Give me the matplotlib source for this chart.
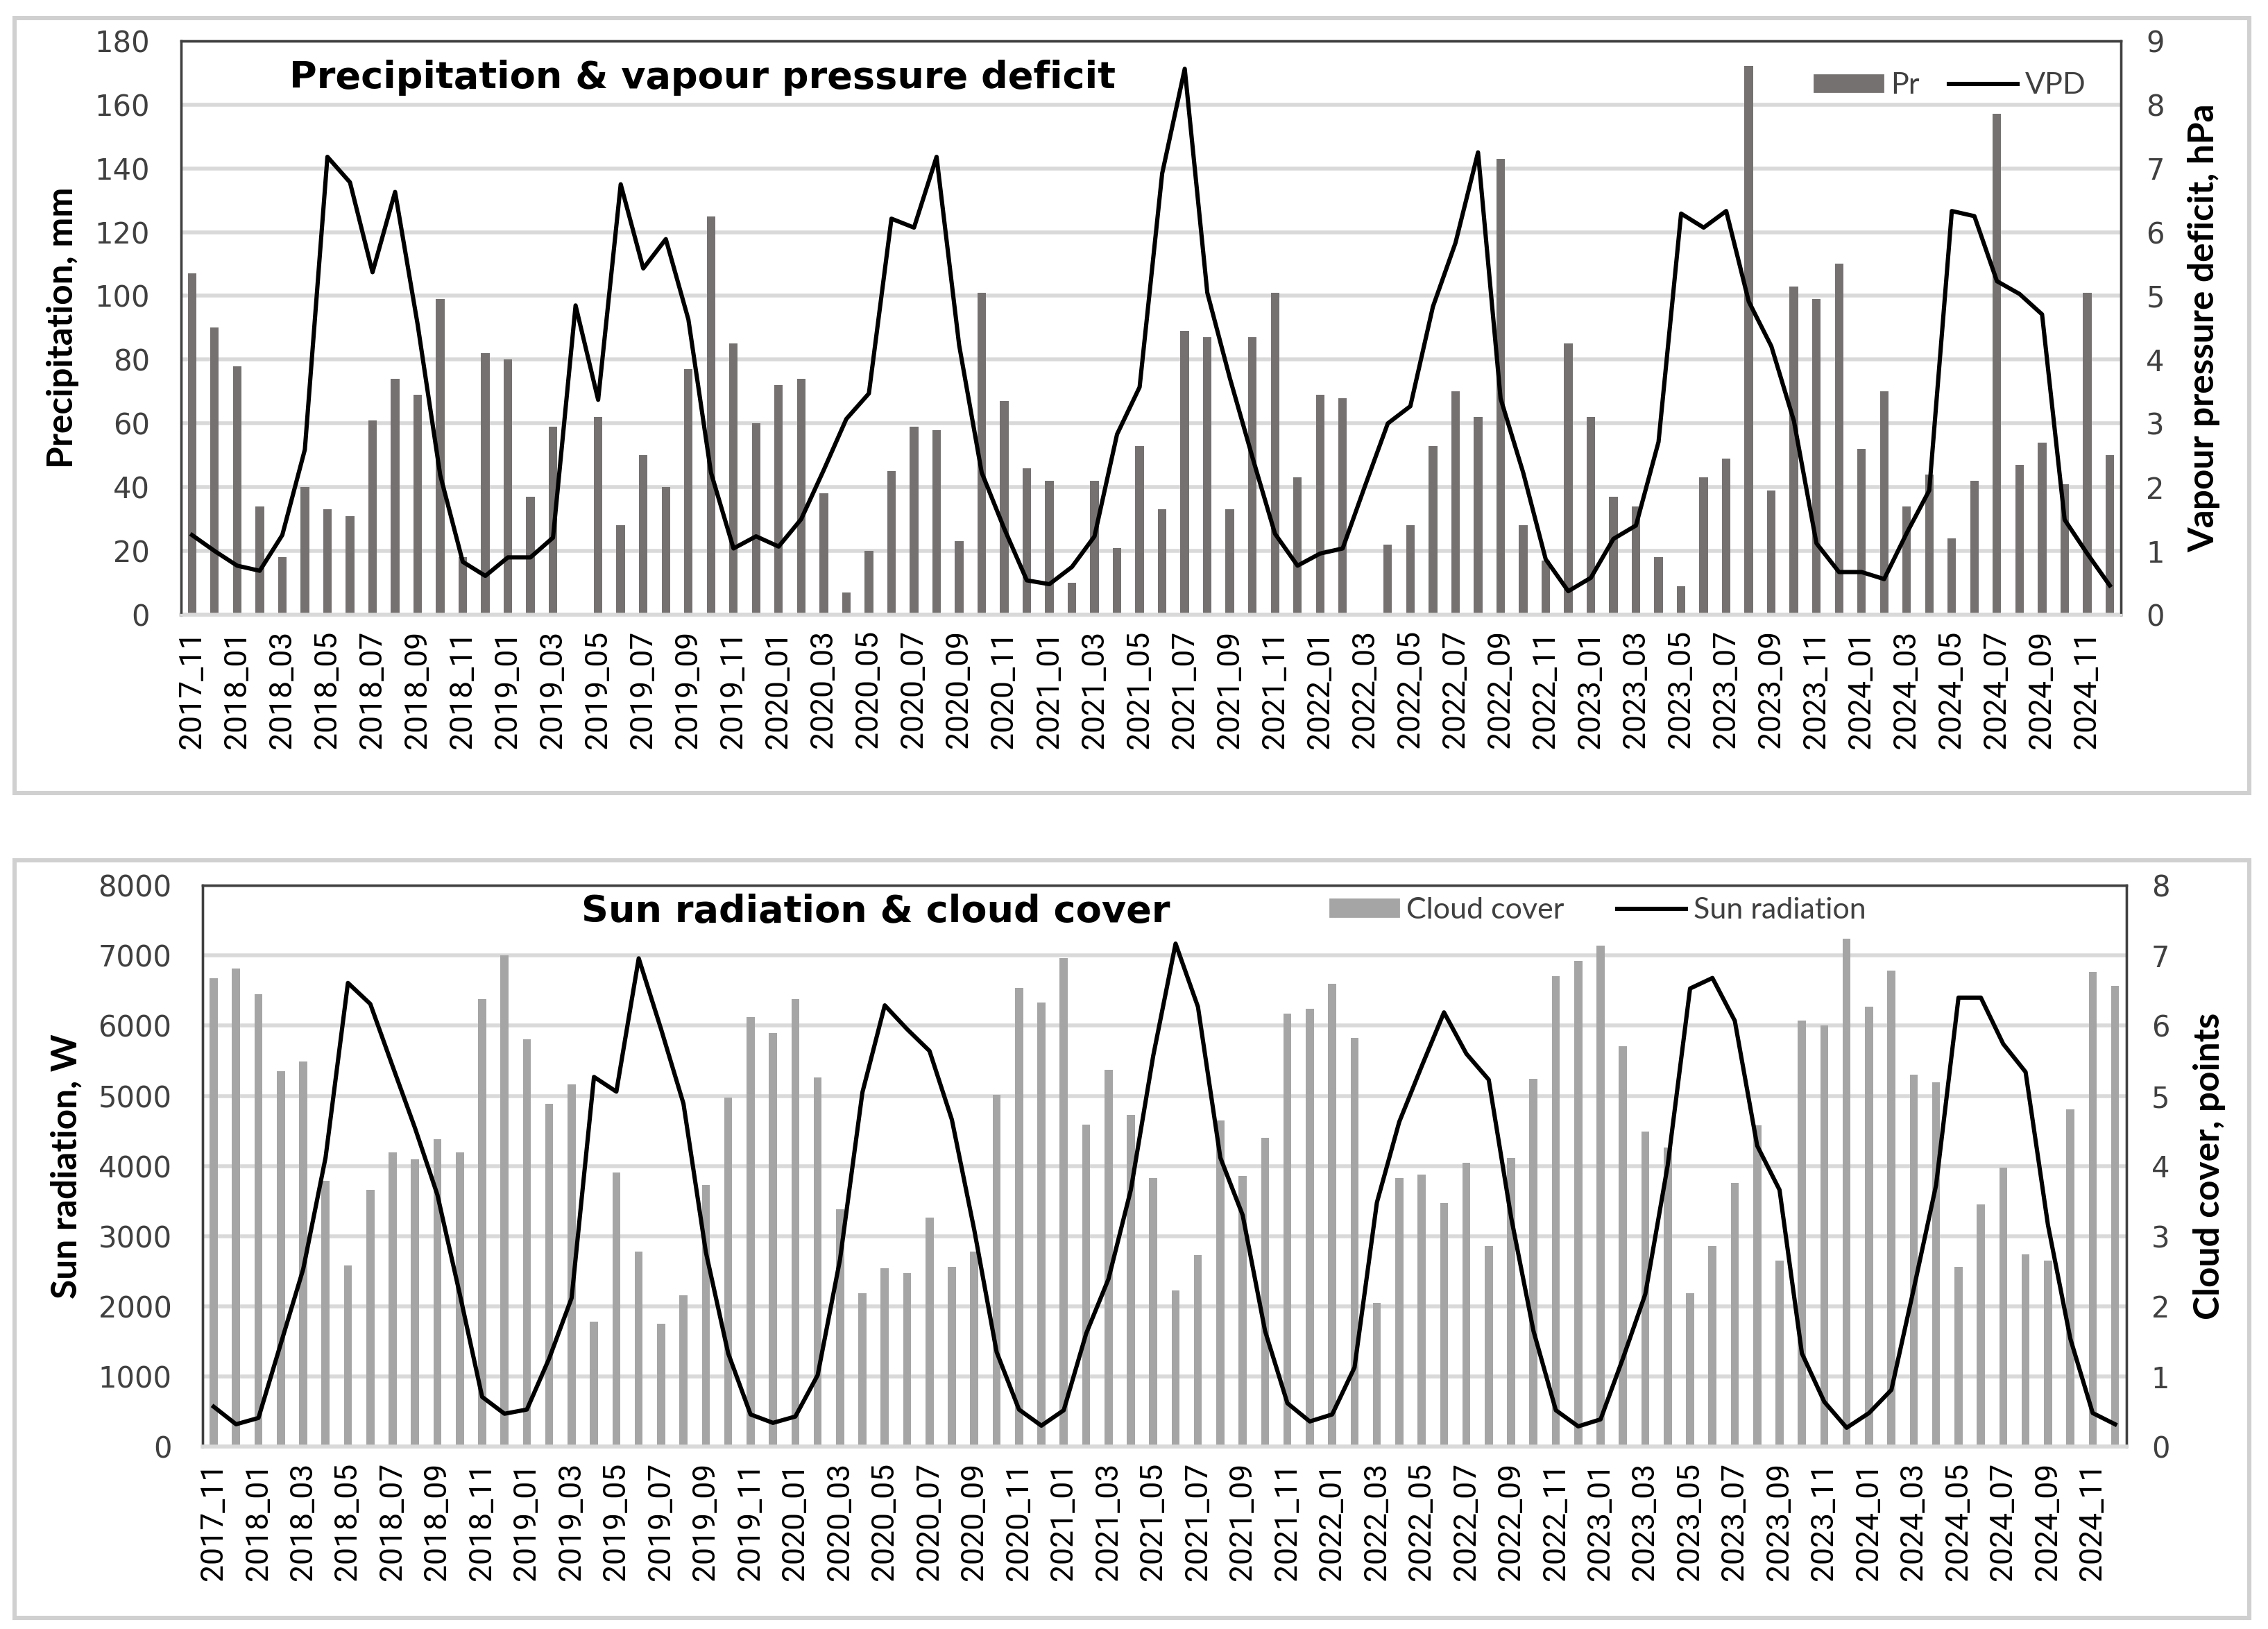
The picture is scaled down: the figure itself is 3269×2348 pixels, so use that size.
"""
Precipitation / VPD and sun radiation / cloud cover, monthly 2017_11 - 2024_12.
"""
import numpy as np
import matplotlib

matplotlib.use("Agg")
import matplotlib.pyplot as plt
from matplotlib.patches import Rectangle
from matplotlib.lines import Line2D
from matplotlib.patches import Patch

# months 2017_11 ... 2024_12
months = ["2017_11", "2017_12"] + [
    f"{y}_{m:02d}" for y in range(2018, 2025) for m in range(1, 13)
]

precip = [
    107, 90, 78, 34, 18, 40, 33, 31, 61, 74, 69, 99,
    18, 82, 80, 37, 59, 0, 62, 28, 50, 40, 77, 125,
    85, 60, 72, 74, 38, 7, 20, 45, 59, 58, 23, 101,
    67, 46, 42, 10, 42, 21, 53, 33, 89, 87, 33, 87,
    101, 43, 69, 68, 0, 22, 28, 53, 70, 62, 143, 28,
    17, 85, 62, 37, 34, 18, 9, 43, 49, 172, 39, 103,
    99, 110, 52, 70, 34, 44, 24, 42, 157, 47, 54, 41,
    101, 50,
]
vpd = [
    1.25, 1.0, 0.77, 0.69, 1.25, 2.59, 7.18, 6.78, 5.37, 6.63, 4.55, 2.19,
    0.83, 0.61, 0.9, 0.9, 1.21, 4.85, 3.37, 6.75, 5.43, 5.89, 4.63, 2.23,
    1.04, 1.23, 1.07, 1.5, 2.27, 3.07, 3.47, 6.21, 6.07, 7.18, 4.23, 2.23,
    1.35, 0.54, 0.48, 0.75, 1.23, 2.83, 3.57, 6.92, 8.56, 5.05, 3.71, 2.47,
    1.27, 0.77, 0.96, 1.04, 2.03, 3.0, 3.27, 4.83, 5.83, 7.25, 3.39, 2.23,
    0.87, 0.37, 0.58, 1.19, 1.4, 2.71, 6.29, 6.07, 6.33, 4.91, 4.21, 3.04,
    1.12, 0.67, 0.67, 0.56, 1.28, 1.95, 6.33, 6.25, 5.23, 5.03, 4.71, 1.49,
    0.96, 0.46,
]
cloud = [
    6.68, 6.81, 6.45, 5.35, 5.49, 3.79, 2.58, 3.66, 4.19, 4.1, 4.38, 4.19,
    6.38, 7.0, 5.81, 4.89, 5.16, 1.78, 3.91, 2.78, 1.75, 2.16, 3.73, 4.98,
    6.12, 5.9, 6.38, 5.26, 3.38, 2.19, 2.54, 2.47, 3.27, 2.56, 2.78, 5.02,
    6.54, 6.33, 6.96, 4.59, 5.37, 4.73, 3.83, 2.23, 2.73, 4.65, 3.86, 4.4,
    6.17, 6.24, 6.6, 5.83, 2.05, 3.83, 3.88, 3.47, 4.05, 2.86, 4.12, 5.24,
    6.71, 6.92, 7.14, 5.71, 4.49, 4.26, 2.19, 2.86, 3.76, 4.58, 2.65, 6.07,
    6.0, 7.24, 6.27, 6.79, 5.3, 5.19, 2.56, 3.45, 3.98, 2.74, 2.65, 4.81,
    6.77, 6.57,
]
sun = [
    570, 320, 410, 1470, 2530, 4120, 6610, 6310, 5420, 4540, 3590, 2175,
    710, 470, 530, 1260, 2120, 5270, 5060, 6960, 5950, 4890, 2775, 1330,
    460, 340, 430, 1020, 2670, 5050, 6290, 5950, 5640, 4660, 3090, 1350,
    530, 300, 520, 1610, 2390, 3660, 5570, 7170, 6270, 4120, 3300, 1650,
    620, 360, 460, 1130, 3480, 4630, 5420, 6190, 5600, 5230, 3270, 1650,
    520, 290, 390, 1260, 2175, 4010, 6530, 6680, 6070, 4290, 3660, 1330,
    640, 270, 480, 810, 2250, 3730, 6400, 6400, 5740, 5340, 3160, 1540,
    480, 320,
]

x = np.arange(len(months))
tick_idx = x[::2]
tick_lbl = [months[i] for i in tick_idx]

TXT = "#404040"
GRID = "#d9d9d9"
TITLE_FONT = ["DejaVu Sans"]
LABEL_FONT = ["Lato", "DejaVu Sans"]
XTICK_FONT = ["Liberation Sans Narrow", "Roboto", "DejaVu Sans"]
YTICK_FONT = ["DejaVu Sans"]

fig = plt.figure(figsize=(3269 / 200, 2348 / 200), dpi=200, facecolor="white")

# panel borders
for y0, h in [(0.513, 0.476), (0.007, 0.465)]:
    fig.patches.append(
        Rectangle((0.0064, y0), 0.9853, h, transform=fig.transFigure,
                  fill=False, edgecolor="#d0d0d0", linewidth=2.2)
    )


def style_axes(ax, ax2):
    ax.set_xlim(-0.5, len(months) - 0.5)
    ax.set_xticks(tick_idx)
    ax.set_xticklabels(tick_lbl, rotation=90, fontsize=16, color="black",
                       family=XTICK_FONT)
    ax.tick_params(axis="x", length=0, pad=8)
    ax.tick_params(axis="y", length=0, labelsize=15, labelcolor=TXT, pad=16)
    ax2.tick_params(axis="y", length=0, labelsize=15, labelcolor=TXT, pad=13)
    for a in (ax, ax2):
        for lab in a.get_yticklabels():
            lab.set_family(YTICK_FONT)
        for s in a.spines.values():
            s.set_color("#404040")
            s.set_linewidth(1.2)
    ax2.spines["bottom"].set_color(GRID)
    ax.spines["bottom"].set_color(GRID)
    ax.spines["bottom"].set_linewidth(2)


def legend_handles(bar_color):
    return [Patch(color=bar_color),
            Line2D([], [], color="black", linewidth=2.2)]


LEG_KW = dict(ncol=2, frameon=False, handlelength=2.3, handleheight=0.5,
              handletextpad=0.25, borderaxespad=0, borderpad=0,
              labelcolor=TXT, prop={"family": LABEL_FONT, "size": 15.5})

# ---------------- top: precipitation & VPD ----------------
ax1 = fig.add_axes([0.0797, 0.6226, 0.8555, 0.3524])
ax1.set_axisbelow(True)
ax1.grid(axis="y", color=GRID, linewidth=2)
ax1.bar(x, precip, width=0.38, color="#767171", zorder=2)
ax1.set_ylim(0, 180)
ax1.set_yticks(np.arange(0, 181, 20))
ax1.set_ylabel("Precipitation, mm", fontsize=18.5, fontweight="bold",
               family=LABEL_FONT, labelpad=8)
ax1r = ax1.twinx()
ax1r.plot(x, vpd, color="black", linewidth=2.2, zorder=3)
ax1r.set_ylim(0, 9)
ax1r.set_yticks(np.arange(0, 10, 1))
ax1r.set_ylabel("Vapour pressure deficit, hPa", fontsize=18.5,
                fontweight="bold", family=LABEL_FONT, labelpad=12)
style_axes(ax1, ax1r)
ax1.text(0.056, 0.935, "Precipitation & vapour pressure deficit",
         transform=ax1.transAxes, fontsize=19.5, fontweight="bold",
         family=TITLE_FONT, va="center", ha="left")
ax1r.legend(legend_handles("#767171"), ["Pr", "VPD"], loc="center right",
            bbox_to_anchor=(0.982, 0.922), columnspacing=1.0, **LEG_KW)

# ---------------- bottom: sun radiation & cloud cover ----------------
ax2 = fig.add_axes([0.0893, 0.1119, 0.8482, 0.3446])
ax2r = ax2.twinx()
ax2r.set_axisbelow(True)
ax2r.grid(axis="y", color=GRID, linewidth=2)
ax2r.bar(x, cloud, width=0.36, color="#a5a5a5", zorder=2)
ax2r.set_ylim(0, 8)
ax2r.set_yticks(np.arange(0, 9, 1))
ax2r.set_ylabel("Cloud cover, points", fontsize=18.5, fontweight="bold",
                family=LABEL_FONT, labelpad=12)
ax2.set_zorder(ax2r.get_zorder() + 1)
ax2.patch.set_visible(False)
ax2.plot(x, sun, color="black", linewidth=2.2, zorder=3)
ax2.set_ylim(0, 8000)
ax2.set_yticks(np.arange(0, 8001, 1000))
ax2.set_ylabel("Sun radiation, W", fontsize=18.5, fontweight="bold",
               family=LABEL_FONT, labelpad=8)
style_axes(ax2, ax2r)
ax2.text(0.35, 0.953, "Sun radiation & cloud cover", transform=ax2.transAxes,
         fontsize=19.5, fontweight="bold", family=TITLE_FONT, va="center",
         ha="center")
ax2.legend(legend_handles("#a5a5a5"), ["Cloud cover", "Sun radiation"],
           loc="center left", bbox_to_anchor=(0.586, 0.956),
           columnspacing=1.8, **LEG_KW)

fig.savefig("out.png", dpi=200, facecolor="white")
